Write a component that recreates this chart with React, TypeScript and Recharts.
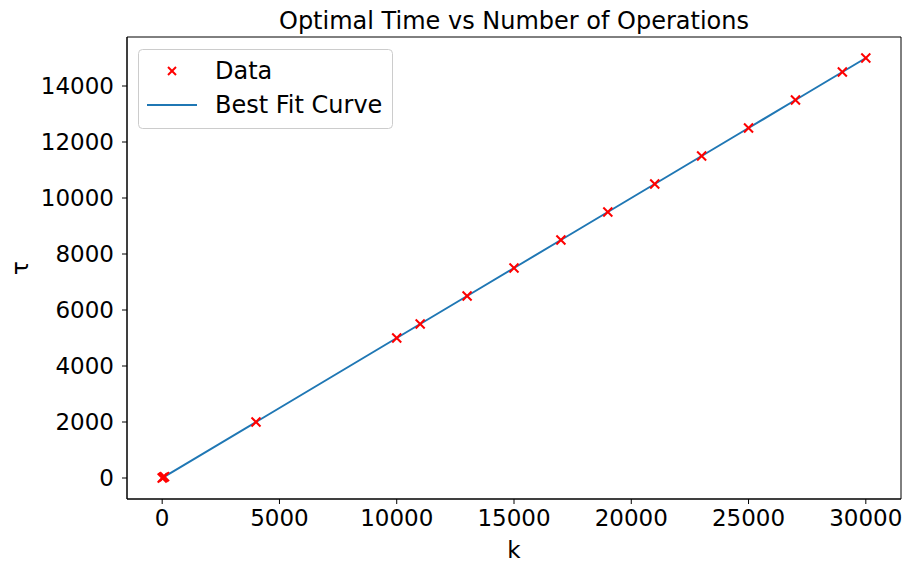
import React from "react";
import {
  ComposedChart,
  Scatter,
  Line,
  XAxis,
  YAxis,
  ReferenceArea,
} from "recharts";

const kValues = [0, 50, 100, 4000, 10000, 11000, 13000, 15000, 17000, 19000, 21000, 23000, 25000, 27000, 29000, 30000];
const tauValues = [0, 25, 50, 2000, 5000, 5500, 6500, 7500, 8500, 9500, 10500, 11500, 12500, 13500, 14500, 15000];
const fitValues = [0, 25, 50, 2000, 5000, 5500, 6500, 7500, 8500, 9500, 10500, 11500, 12500, 13500, 14500, 15000];

const xTicks = [0, 5000, 10000, 15000, 20000, 25000, 30000];
const yTicks = [0, 2000, 4000, 6000, 8000, 10000, 12000, 14000];

const data = kValues.map((k, i) => ({ k, tau: tauValues[i], fit: fitValues[i] }));

const FONT = "DejaVu Sans";

const Cross = (props: any) => {
  const { cx, cy } = props;
  const r = 4.5;
  return (
    <g stroke="#ff0000" strokeWidth={2}>
      <line x1={cx - r} y1={cy - r} x2={cx + r} y2={cy + r} />
      <line x1={cx - r} y1={cy + r} x2={cx + r} y2={cy - r} />
    </g>
  );
};

// legend drawn as an overlay so it doesn't eat plot space
const LegendBox = () => (
  <svg width={256} height={82} style={{ position: "absolute", left: 130, top: 41 }}>
    <rect x={0.5} y={0.5} width={254} height={79} rx={4} fill="#fff" stroke="#cccccc" />
    <g stroke="#ff0000" strokeWidth={2}>
      <line x1={30} y1={18} x2={38} y2={26} />
      <line x1={30} y1={26} x2={38} y2={18} />
    </g>
    <text x={77} y={30} fontSize={24} fontFamily={FONT} fill="#000">Data</text>
    <line x1={9} y1={56} x2={59} y2={56} stroke="#1f77b4" strokeWidth={2} />
    <text x={77} y={64} fontSize={24} fontFamily={FONT} fill="#000">Best Fit Curve</text>
  </svg>
);

export default function App() {
  return (
    <div style={{ position: "relative", width: 900, height: 556 }}>
      <ComposedChart
        width={900}
        height={556}
        data={data}
        margin={{ top: 29, right: 7, left: 0, bottom: 0 }}
      >
        <text x={506} y={21} textAnchor="middle" fontSize={24} fontFamily={FONT} fill="#000">
          Optimal Time vs Number of Operations
        </text>
        <text
          x={20}
          y={260}
          textAnchor="middle"
          fontSize={23}
          fontFamily={FONT}
          fill="#000"
          transform="rotate(-90 20 260)"
        >
          τ
        </text>
        <text x={506} y={550} textAnchor="middle" fontSize={23} fontFamily={FONT} fill="#000">
          k
        </text>
        <XAxis
          dataKey="k"
          type="number"
          domain={[-1500, 31500]}
          ticks={xTicks}
          height={65}
          tickSize={5}
          tickMargin={6}
          stroke="#000"
          tick={{ fill: "#000", fontSize: 23, fontFamily: FONT }}
        />
        <YAxis
          type="number"
          domain={[-750, 15750]}
          ticks={yTicks}
          width={119}
          tickSize={5}
          tickMargin={8}
          stroke="#000"
          tick={{ fill: "#000", fontSize: 23, fontFamily: FONT }}
        />
        <ReferenceArea
          x1={-1500}
          x2={31500}
          y1={-750}
          y2={15750}
          fill="none"
          fillOpacity={0}
          stroke="#000"
          strokeWidth={1}
          ifOverflow="visible"
        />
        <Line
          dataKey="fit"
          stroke="#1f77b4"
          strokeWidth={2}
          dot={false}
          activeDot={false}
          isAnimationActive={false}
          legendType="none"
        />
        <Scatter dataKey="tau" shape={<Cross />} isAnimationActive={false} />
      </ComposedChart>
      <LegendBox />
    </div>
  );
}
